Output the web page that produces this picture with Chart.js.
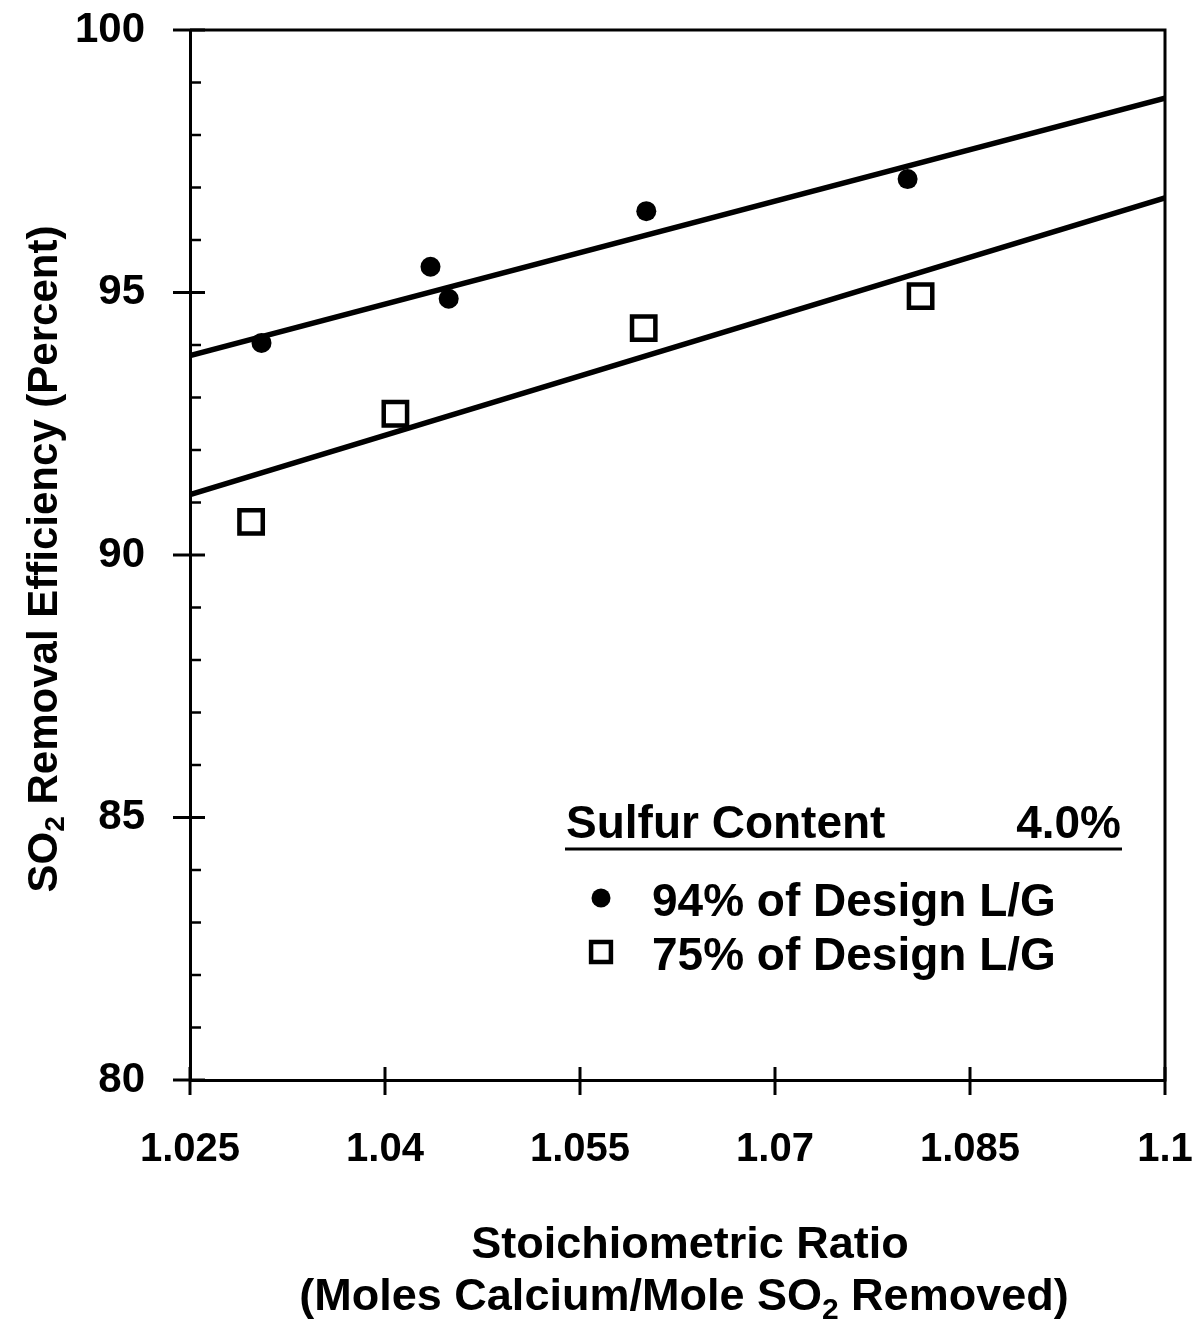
<!DOCTYPE html>
<html>
<head>
<meta charset="utf-8">
<script src="https://cdn.jsdelivr.net/npm/chart.js"></script>
<style>
  html, body { margin: 0; padding: 0; background: #fff; }
  canvas { display: block; }
</style>
</head>
<body>
<canvas id="chart" width="1193" height="1325"></canvas>
<script>
// Axis ticks
const xTickValues = [1.025, 1.04, 1.055, 1.07, 1.085, 1.1];
const xTickLabels = ['1.025', '1.04', '1.055', '1.07', '1.085', '1.1'];
const yTickValues = [80, 85, 90, 95, 100];
const yTickLabels = ['80', '85', '90', '95', '100'];
const yMinorStep = 1;

// Measured points: 94% of design L/G
const ratio94 = [1.0305, 1.0435, 1.0449, 1.0601, 1.0802];
const eff94 = [94.04, 95.49, 94.88, 96.55, 97.16];

// Measured points: 75% of design L/G
const ratio75 = [1.0297, 1.0408, 1.0599, 1.0812];
const eff75 = [90.63, 92.69, 94.32, 94.93];

// Fitted trend lines (end points across the plotted range)
const fitRatio = [1.025, 1.1];
const fit94 = [93.8, 98.7];
const fit75 = [91.15, 96.8];

// Text
const legendTitle = 'Sulfur Content';
const legendValue = '4.0%';
const label94 = '94% of Design L/G';
const label75 = '75% of Design L/G';
const yTitleParts = [{ t: 'SO' }, { t: '2', sub: true }, { t: ' Removal Efficiency (Percent)' }];
const xTitleLine1 = [{ t: 'Stoichiometric Ratio' }];
const xTitleLine2 = [{ t: '(Moles Calcium/Mole SO' }, { t: '2', sub: true }, { t: ' Removed)' }];

const FONT = '"Liberation Sans", Arial, Helvetica, sans-serif';
const INK = '#000';

function toPoints(xs, ys) {
  return xs.map((x, i) => ({ x: x, y: ys[i] }));
}

// Text runs with optional subscript pieces
function richWidth(ctx, parts, size) {
  let w = 0;
  parts.forEach(p => {
    ctx.font = 'bold ' + (p.sub ? Math.round(size * 0.66) : size) + 'px ' + FONT;
    w += ctx.measureText(p.t).width;
  });
  return w;
}
function drawRich(ctx, parts, cx, cy, size) {
  const total = richWidth(ctx, parts, size);
  let x = cx - total / 2;
  ctx.textBaseline = 'middle';
  ctx.textAlign = 'left';
  parts.forEach(p => {
    const s = p.sub ? Math.round(size * 0.66) : size;
    ctx.font = 'bold ' + s + 'px ' + FONT;
    ctx.fillText(p.t, x, p.sub ? cy + size * 0.28 : cy);
    x += ctx.measureText(p.t).width;
  });
}

// Keep the plot box exactly where the axes are fitted
function clearPadding(scale) {
  scale.paddingLeft = 0;
  scale.paddingRight = 0;
  scale.paddingTop = 0;
  scale.paddingBottom = 0;
}

const decorations = {
  id: 'decorations',
  afterDraw(chart) {
    const ctx = chart.ctx;
    const a = chart.chartArea;
    const xs = chart.scales.x;
    const ys = chart.scales.y;
    ctx.save();
    ctx.strokeStyle = INK;
    ctx.fillStyle = INK;
    ctx.lineWidth = 3;
    ctx.lineCap = 'butt';

    // Top and right edges of the frame
    ctx.beginPath();
    ctx.moveTo(a.left, a.top);
    ctx.lineTo(a.right, a.top);
    ctx.lineTo(a.right, a.bottom + 1.5);
    ctx.stroke();

    // Major y ticks cross the axis, minor ones point inward
    yTickValues.forEach(v => {
      const py = ys.getPixelForValue(v);
      ctx.beginPath();
      ctx.moveTo(a.left - 17, py);
      ctx.lineTo(a.left + 15, py);
      ctx.stroke();
    });
    ctx.lineWidth = 2.5;
    for (let v = ys.min + yMinorStep; v < ys.max; v += yMinorStep) {
      if (yTickValues.includes(v)) continue;
      const py = ys.getPixelForValue(v);
      ctx.beginPath();
      ctx.moveTo(a.left, py);
      ctx.lineTo(a.left + 11, py);
      ctx.stroke();
    }

    // x ticks cross the axis
    ctx.lineWidth = 3;
    xTickValues.forEach(v => {
      const px = xs.getPixelForValue(v);
      ctx.beginPath();
      ctx.moveTo(px, a.bottom - 13);
      ctx.lineTo(px, a.bottom + 15);
      ctx.stroke();
    });

    // Axis titles
    ctx.save();
    ctx.translate(45, 559);
    ctx.rotate(-Math.PI / 2);
    drawRich(ctx, yTitleParts, 0, 0, 42);
    ctx.restore();
    drawRich(ctx, xTitleLine1, 690, 1246, 45);
    drawRich(ctx, xTitleLine2, 684, 1298, 45);

    // Legend block
    ctx.font = 'bold 46px ' + FONT;
    ctx.textBaseline = 'middle';
    ctx.textAlign = 'left';
    ctx.fillText(legendTitle, 566, 825);
    ctx.textAlign = 'right';
    ctx.fillText(legendValue, 1121, 825);
    ctx.lineWidth = 3;
    ctx.beginPath();
    ctx.moveTo(565, 849);
    ctx.lineTo(1122, 849);
    ctx.stroke();

    const rows = [
      { ds: chart.data.datasets[0], y: 903 },
      { ds: chart.data.datasets[1], y: 957 }
    ];
    rows.forEach(r => {
      const ds = r.ds;
      ctx.lineWidth = ds.borderWidth || 0;
      ctx.strokeStyle = ds.borderColor;
      ctx.fillStyle = ds.backgroundColor;
      const rad = ds.pointStyle === 'rect' ? ds.pointRadius * 0.85 : ds.pointRadius * 0.95;
      Chart.helpers.drawPoint(ctx, { pointStyle: ds.pointStyle, radius: rad, rotation: 0, borderWidth: ds.borderWidth }, 601, r.y - 5);
      ctx.fillStyle = INK;
      ctx.textAlign = 'left';
      ctx.font = 'bold 46px ' + FONT;
      ctx.fillText(ds.label, 652, r.y);
    });
    ctx.restore();
  }
};

new Chart(document.getElementById('chart'), {
  type: 'scatter',
  data: {
    datasets: [
      {
        label: label94,
        data: toPoints(ratio94, eff94),
        pointStyle: 'circle',
        pointRadius: 10,
        backgroundColor: INK,
        borderColor: INK,
        borderWidth: 0,
        order: 1
      },
      {
        label: label75,
        data: toPoints(ratio75, eff75),
        pointStyle: 'rect',
        pointRadius: 16.5,
        backgroundColor: '#fff',
        borderColor: INK,
        borderWidth: 4.5,
        order: 1
      },
      {
        label: 'fit94',
        data: toPoints(fitRatio, fit94),
        showLine: true,
        borderColor: INK,
        borderWidth: 5.5,
        pointRadius: 0,
        order: 2
      },
      {
        label: 'fit75',
        data: toPoints(fitRatio, fit75),
        showLine: true,
        borderColor: INK,
        borderWidth: 5.5,
        pointRadius: 0,
        order: 2
      }
    ]
  },
  options: {
    responsive: false,
    animation: false,
    devicePixelRatio: 1,
    layout: { padding: { top: 30, right: 28, left: 0, bottom: 0 } },
    plugins: {
      legend: { display: false },
      tooltip: { enabled: false }
    },
    scales: {
      x: {
        type: 'linear',
        min: 1.025,
        max: 1.1,
        afterBuildTicks(scale) { scale.ticks = xTickValues.map(v => ({ value: v })); },
        afterFit(scale) { scale.height = 245; clearPadding(scale); },
        grid: { display: false, drawTicks: false },
        border: { display: true, color: INK, width: 3 },
        ticks: {
          autoSkip: false,
          maxRotation: 0,
          padding: 46,
          color: INK,
          font: { family: FONT, size: 40, weight: 'bold' },
          callback: (v, i) => xTickLabels[i]
        }
      },
      y: {
        type: 'linear',
        min: 80,
        max: 100,
        afterBuildTicks(scale) { scale.ticks = yTickValues.map(v => ({ value: v })); },
        afterFit(scale) { scale.width = 190; clearPadding(scale); },
        grid: { display: false, drawTicks: false },
        border: { display: true, color: INK, width: 3 },
        ticks: {
          autoSkip: false,
          padding: 45,
          color: INK,
          font: { family: FONT, size: 42, weight: 'bold' },
          callback: (v, i) => yTickLabels[i]
        }
      }
    }
  },
  plugins: [decorations]
});
</script>
</body>
</html>
